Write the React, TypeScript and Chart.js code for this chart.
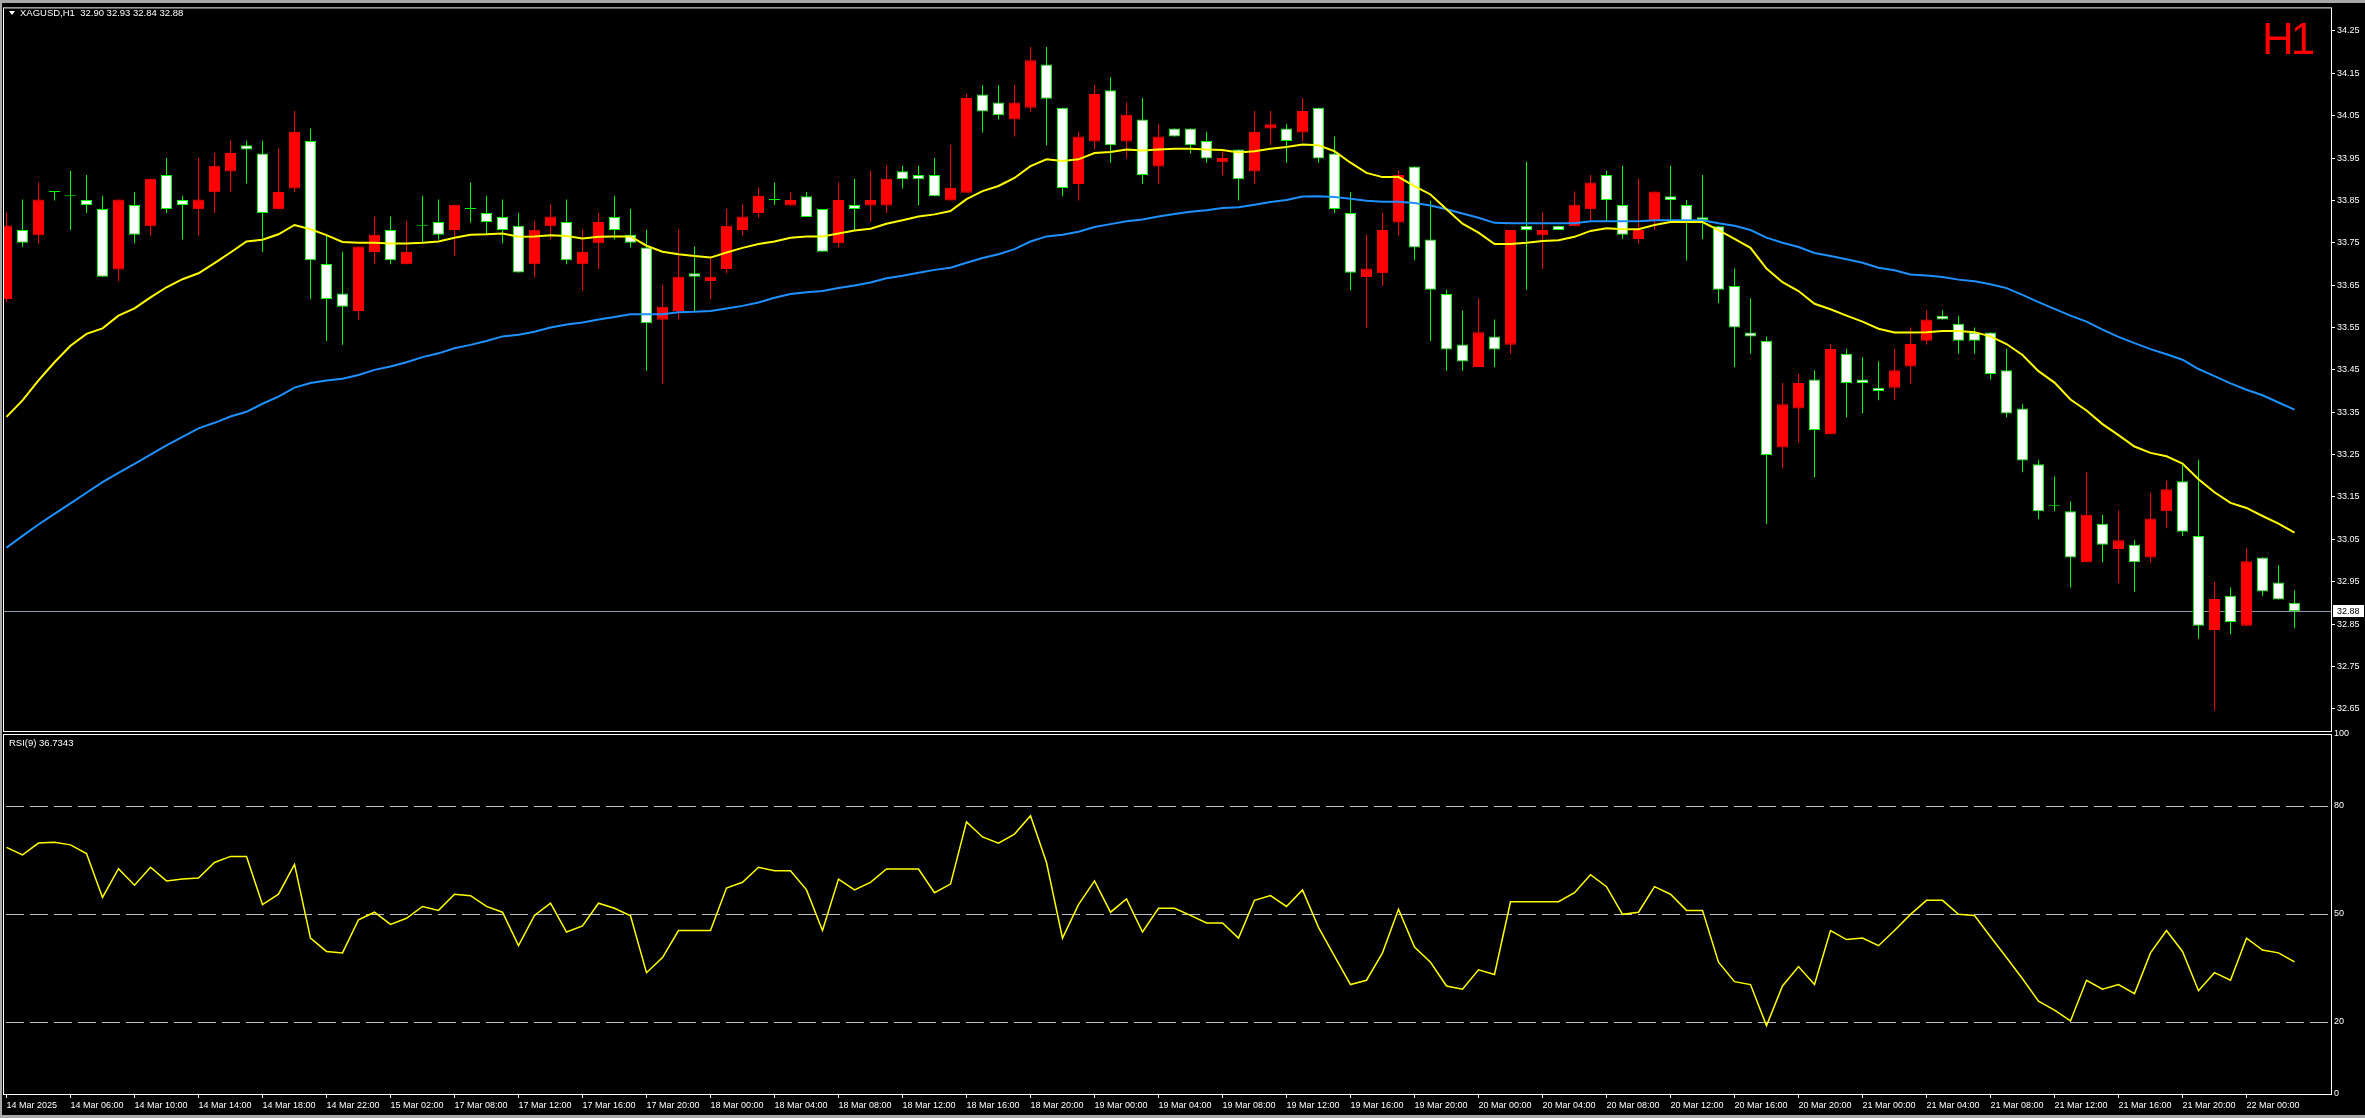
import React, { useEffect, useRef } from 'react';
import { Chart, registerables } from 'chart.js';

Chart.register(...registerables);

const W = 2365;
const H = 1118;
const FONT = "'Liberation Sans', Arial, sans-serif";

const timeLabels = [
  '14 Mar 2025', '14 Mar 06:00', '14 Mar 10:00', '14 Mar 14:00', '14 Mar 18:00', '14 Mar 22:00',
  '15 Mar 02:00', '17 Mar 08:00', '17 Mar 12:00', '17 Mar 16:00', '17 Mar 20:00', '18 Mar 00:00',
  '18 Mar 04:00', '18 Mar 08:00', '18 Mar 12:00', '18 Mar 16:00', '18 Mar 20:00', '19 Mar 00:00',
  '19 Mar 04:00', '19 Mar 08:00', '19 Mar 12:00', '19 Mar 16:00', '19 Mar 20:00', '20 Mar 00:00',
  '20 Mar 04:00', '20 Mar 08:00', '20 Mar 12:00', '20 Mar 16:00', '20 Mar 20:00', '21 Mar 00:00',
  '21 Mar 04:00', '21 Mar 08:00', '21 Mar 12:00', '21 Mar 16:00', '21 Mar 20:00', '22 Mar 00:00',
];

const opens = [
  33.617, 33.780, 33.768, 33.870, 33.860, 33.851, 33.830, 33.687, 33.839, 33.789,
  33.910, 33.851, 33.829, 33.869, 33.918, 33.980, 33.961, 33.829, 33.878, 33.990,
  33.700, 33.630, 33.589, 33.728, 33.780, 33.699, 33.790, 33.799, 33.780, 33.830,
  33.820, 33.811, 33.790, 33.699, 33.789, 33.799, 33.699, 33.749, 33.811, 33.769,
  33.739, 33.568, 33.589, 33.678, 33.660, 33.688, 33.780, 33.820, 33.851, 33.838,
  33.860, 33.830, 33.749, 33.839, 33.838, 33.838, 33.919, 33.910, 33.910, 33.850,
  33.868, 34.100, 34.081, 34.041, 34.069, 34.171, 34.069, 33.889, 33.989, 34.110,
  33.989, 34.041, 33.930, 34.020, 34.020, 33.990, 33.940, 33.970, 33.918, 34.020,
  34.020, 34.010, 34.069, 33.961, 33.820, 33.669, 33.678, 33.798, 33.930, 33.758,
  33.629, 33.510, 33.457, 33.529, 33.509, 33.790, 33.768, 33.790, 33.789, 33.829,
  33.910, 33.839, 33.759, 33.801, 33.860, 33.839, 33.810, 33.789, 33.648, 33.538,
  33.519, 33.267, 33.359, 33.427, 33.298, 33.488, 33.427, 33.408, 33.408, 33.458,
  33.519, 33.578, 33.559, 33.538, 33.538, 33.449, 33.359, 33.227, 33.128, 33.116,
  32.996, 33.087, 33.027, 33.037, 33.007, 33.116, 33.187, 33.058, 32.836, 32.917,
  32.846, 33.007, 32.948, 32.900,
];

const highs = [
  33.821, 33.852, 33.892, 33.870, 33.920, 33.910, 33.861, 33.852, 33.870, 33.901,
  33.950, 33.861, 33.950, 33.962, 33.991, 33.991, 33.991, 33.972, 34.061, 34.020,
  33.766, 33.729, 33.741, 33.812, 33.812, 33.800, 33.861, 33.852, 33.840, 33.892,
  33.861, 33.852, 33.820, 33.800, 33.840, 33.852, 33.781, 33.820, 33.861, 33.830,
  33.781, 33.649, 33.781, 33.741, 33.719, 33.830, 33.840, 33.881, 33.892, 33.870,
  33.870, 33.830, 33.892, 33.901, 33.920, 33.932, 33.932, 33.932, 33.950, 33.981,
  34.101, 34.122, 34.122, 34.122, 34.212, 34.212, 34.069, 34.012, 34.122, 34.141,
  34.081, 34.092, 34.030, 34.020, 34.020, 34.012, 33.970, 33.970, 34.061, 34.061,
  34.030, 34.092, 34.069, 34.001, 33.870, 33.769, 33.820, 33.920, 33.930, 33.850,
  33.639, 33.590, 33.619, 33.569, 33.780, 33.941, 33.821, 33.790, 33.871, 33.910,
  33.920, 33.932, 33.901, 33.871, 33.932, 33.851, 33.910, 33.789, 33.689, 33.619,
  33.529, 33.419, 33.440, 33.449, 33.511, 33.499, 33.480, 33.470, 33.499, 33.550,
  33.591, 33.591, 33.578, 33.550, 33.538, 33.499, 33.369, 33.238, 33.198, 33.139,
  33.209, 33.108, 33.118, 33.048, 33.158, 33.189, 33.229, 33.238, 32.949, 32.936,
  33.029, 33.007, 32.989, 32.930,
];

const lows = [
  33.610, 33.740, 33.749, 33.850, 33.780, 33.820, 33.670, 33.659, 33.749, 33.768,
  33.820, 33.758, 33.768, 33.820, 33.869, 33.890, 33.728, 33.829, 33.869, 33.617,
  33.518, 33.509, 33.568, 33.699, 33.699, 33.699, 33.750, 33.758, 33.719, 33.798,
  33.768, 33.749, 33.680, 33.668, 33.758, 33.699, 33.638, 33.688, 33.758, 33.739,
  33.448, 33.417, 33.568, 33.589, 33.617, 33.678, 33.768, 33.809, 33.840, 33.838,
  33.811, 33.729, 33.739, 33.780, 33.799, 33.820, 33.878, 33.838, 33.860, 33.850,
  33.868, 34.010, 34.041, 34.001, 34.060, 33.980, 33.860, 33.850, 33.970, 33.939,
  33.949, 33.889, 33.889, 34.001, 33.961, 33.939, 33.909, 33.850, 33.889, 33.980,
  33.939, 33.989, 33.939, 33.820, 33.638, 33.549, 33.648, 33.768, 33.709, 33.518,
  33.448, 33.448, 33.457, 33.457, 33.488, 33.639, 33.688, 33.780, 33.789, 33.801,
  33.801, 33.759, 33.748, 33.780, 33.801, 33.708, 33.759, 33.608, 33.457, 33.488,
  33.086, 33.218, 33.279, 33.196, 33.298, 33.338, 33.347, 33.378, 33.378, 33.417,
  33.509, 33.569, 33.488, 33.488, 33.427, 33.338, 33.208, 33.098, 33.116, 32.936,
  32.996, 32.996, 32.947, 32.926, 32.996, 33.076, 33.058, 32.815, 32.646, 32.826,
  32.846, 32.917, 32.908, 32.840,
];

const closes = [
  33.791, 33.750, 33.852, 33.870, 33.860, 33.839, 33.670, 33.852, 33.769, 33.901,
  33.830, 33.839, 33.852, 33.932, 33.962, 33.970, 33.820, 33.870, 34.012, 33.709,
  33.617, 33.599, 33.741, 33.769, 33.709, 33.729, 33.790, 33.769, 33.840, 33.830,
  33.799, 33.780, 33.680, 33.781, 33.812, 33.709, 33.729, 33.799, 33.780, 33.750,
  33.560, 33.599, 33.670, 33.670, 33.670, 33.790, 33.812, 33.861, 33.851, 33.851,
  33.811, 33.729, 33.851, 33.830, 33.851, 33.901, 33.900, 33.900, 33.860, 33.880,
  34.092, 34.060, 34.051, 34.081, 34.181, 34.090, 33.879, 34.001, 34.101, 33.980,
  34.052, 33.910, 34.001, 34.001, 33.980, 33.949, 33.950, 33.900, 34.012, 34.030,
  33.990, 34.061, 33.949, 33.830, 33.679, 33.689, 33.780, 33.910, 33.739, 33.639,
  33.498, 33.470, 33.539, 33.498, 33.780, 33.780, 33.780, 33.780, 33.840, 33.892,
  33.851, 33.769, 33.780, 33.871, 33.851, 33.801, 33.804, 33.639, 33.550, 33.529,
  33.249, 33.369, 33.419, 33.308, 33.499, 33.419, 33.419, 33.400, 33.449, 33.511,
  33.569, 33.569, 33.519, 33.519, 33.440, 33.347, 33.236, 33.116, 33.128, 33.007,
  33.108, 33.037, 33.048, 32.996, 33.099, 33.168, 33.068, 32.846, 32.909, 32.855,
  32.998, 32.927, 32.908, 32.880,
];

const maFast = [
  33.339, 33.378, 33.425, 33.468, 33.507, 33.535, 33.548, 33.578, 33.595, 33.621,
  33.645, 33.664, 33.678, 33.702, 33.727, 33.753, 33.757, 33.770, 33.792, 33.782,
  33.768, 33.752, 33.750, 33.750, 33.748, 33.748, 33.750, 33.753, 33.762, 33.769,
  33.770, 33.772, 33.764, 33.765, 33.768, 33.766, 33.760, 33.764, 33.765, 33.765,
  33.743, 33.729, 33.723, 33.719, 33.715, 33.727, 33.738, 33.747, 33.753, 33.762,
  33.765, 33.765, 33.772, 33.779, 33.783, 33.795, 33.803, 33.812, 33.817, 33.825,
  33.853, 33.872, 33.884, 33.903, 33.931, 33.947, 33.943, 33.947, 33.962, 33.964,
  33.970, 33.968, 33.970, 33.972, 33.972, 33.970, 33.969, 33.963, 33.966, 33.972,
  33.976, 33.982, 33.980, 33.966, 33.939, 33.915, 33.905, 33.905, 33.884, 33.864,
  33.829, 33.795, 33.774, 33.747, 33.747, 33.750, 33.754, 33.756, 33.764, 33.778,
  33.784, 33.782, 33.782, 33.792, 33.799, 33.799, 33.799, 33.780, 33.759, 33.738,
  33.689, 33.657, 33.636, 33.606, 33.593, 33.578, 33.564, 33.547, 33.538, 33.538,
  33.539, 33.542, 33.542, 33.539, 33.529, 33.511, 33.485, 33.447, 33.420, 33.380,
  33.354, 33.322, 33.296, 33.269, 33.254, 33.246, 33.229, 33.192, 33.161, 33.136,
  33.124, 33.105, 33.087, 33.066,
];

const maSlow = [
  33.030, 33.058, 33.085, 33.110, 33.135, 33.160, 33.185, 33.207, 33.228, 33.250,
  33.272, 33.292, 33.312, 33.325, 33.340, 33.351, 33.370, 33.387, 33.408, 33.419,
  33.425, 33.429, 33.438, 33.450, 33.458, 33.468, 33.480, 33.489, 33.501, 33.509,
  33.518, 33.529, 33.533, 33.540, 33.550, 33.557, 33.562, 33.569, 33.575, 33.581,
  33.581, 33.581, 33.586, 33.587, 33.589, 33.595, 33.601, 33.609, 33.620, 33.629,
  33.633, 33.636, 33.643, 33.649, 33.656, 33.666, 33.672, 33.679, 33.686, 33.691,
  33.703, 33.714, 33.723, 33.735, 33.753, 33.765, 33.769, 33.776, 33.787, 33.794,
  33.801, 33.805, 33.812, 33.818, 33.823, 33.827, 33.832, 33.834, 33.840, 33.846,
  33.851, 33.859, 33.860, 33.858, 33.854, 33.849, 33.847, 33.847, 33.844, 33.838,
  33.829, 33.819, 33.809, 33.797, 33.796, 33.796, 33.796, 33.796, 33.796, 33.801,
  33.801, 33.801, 33.801, 33.803, 33.803, 33.803, 33.803, 33.796, 33.790, 33.780,
  33.762, 33.750, 33.740, 33.726, 33.719, 33.711, 33.703, 33.691, 33.685, 33.675,
  33.673, 33.669, 33.663, 33.659, 33.652, 33.643, 33.627, 33.610, 33.594, 33.578,
  33.564, 33.545, 33.528, 33.513, 33.499, 33.487, 33.474, 33.452, 33.435, 33.418,
  33.403, 33.390, 33.373, 33.356,
];

const rsi = [
  68.5, 66.4, 69.7, 69.9, 69.2, 66.8, 54.6, 62.6, 58.0, 63.0,
  59.2, 59.7, 60.0, 64.3, 66.0, 66.0, 52.6, 55.5, 63.8, 43.3,
  39.6, 39.2, 48.4, 50.5, 47.1, 48.8, 52.1, 51.0, 55.5, 55.1,
  52.1, 50.5, 41.2, 49.6, 53.0, 45.0, 46.7, 53.0, 51.6, 49.5,
  33.7, 37.9, 45.4, 45.4, 45.4, 57.2, 58.8, 63.0, 62.0, 62.0,
  56.7, 45.4, 59.7, 56.7, 58.8, 62.5, 62.5, 62.5, 55.9, 58.3,
  75.6, 71.4, 69.7, 72.2, 77.3, 64.3, 43.3, 52.6, 59.2, 50.5,
  54.2, 45.0, 51.6, 51.6, 49.6, 47.5, 47.5, 43.3, 53.8, 55.1,
  52.1, 56.7, 46.3, 38.3, 30.4, 31.6, 39.2, 51.3, 40.8, 36.6,
  30.0, 29.1, 34.5, 33.2, 53.4, 53.4, 53.4, 53.4, 55.9, 60.9,
  57.6, 49.9, 50.5, 57.6, 55.5, 51.0, 51.0, 36.6, 31.2, 30.4,
  19.0, 30.0, 35.4, 30.4, 45.4, 42.9, 43.3, 41.2, 45.4, 49.9,
  53.8, 53.8, 49.9, 49.6, 43.7, 37.9, 32.0, 25.8, 23.3, 20.3,
  31.6, 29.1, 30.4, 27.9, 39.2, 45.4, 39.6, 28.7, 33.7, 31.6,
  43.3, 40.0, 39.2, 36.7,
];

const priceTickLabels = [
  '34.25', '34.15', '34.05', '33.95', '33.85', '33.75', '33.65', '33.55', '33.45',
  '33.35', '33.25', '33.15', '33.05', '32.95', '32.85', '32.75', '32.65',
];
const rsiTickLabels = ['100', '80', '50', '20', '0'];
const rsiLevels = [80, 50, 20];
const rsiLabelText = 'RSI(9) 36.7343';
const titleText = 'XAGUSD,H1  32.90 32.93 32.84 32.88';

const X_MIN = -0.21875;
const X_MAX = 145.28125;
const PRICE_MIN = 32.5975;
const PRICE_MAX = 34.3056;

const RED = '#ff0000';
const GREEN = '#00ff00';
const WHITE = '#ffffff';

const isBull = (i: number) => i !== undefined && closes[i] > opens[i];
const isDoji = (i: number) => i !== undefined && closes[i] === opens[i];

const framePlugin = {
  id: 'frame',
  afterDraw(chart: any) {
    const { ctx, chartArea: a } = chart;
    ctx.save();
    ctx.strokeStyle = '#ffffff';
    ctx.lineWidth = 1;
    ctx.strokeRect(a.left + 0.5, a.top + 0.5, a.right - a.left, a.bottom - a.top);
    ctx.restore();
  },
};

const lastClose = closes[closes.length - 1];

const priceLinePlugin = {
  id: 'priceLine',
  beforeDatasetsDraw(chart: any) {
    const { ctx, chartArea: a, scales } = chart;
    const py = Math.round(scales.y.getPixelForValue(lastClose)) + 0.5;
    ctx.save();
    ctx.strokeStyle = '#8a96a6';
    ctx.lineWidth = 1;
    ctx.beginPath();
    ctx.moveTo(a.left, py);
    ctx.lineTo(a.right, py);
    ctx.stroke();
    ctx.restore();
  },
  afterDraw(chart: any) {
    const { ctx, chartArea: a, scales } = chart;
    const py = Math.round(scales.y.getPixelForValue(lastClose));
    ctx.save();
    ctx.fillStyle = '#ffffff';
    ctx.fillRect(a.right + 2, py - 6, W - a.right - 3, 12);
    ctx.fillStyle = '#000000';
    ctx.font = `9px ${FONT}`;
    ctx.textBaseline = 'middle';
    ctx.textAlign = 'left';
    ctx.fillText(lastClose.toFixed(2), a.right + 6, py + 0.5);
    ctx.restore();
  },
};

const rsiLevelsPlugin = {
  id: 'rsiLevels',
  beforeDatasetsDraw(chart: any) {
    const { ctx, chartArea: a, scales } = chart;
    ctx.save();
    ctx.strokeStyle = '#c0c0c0';
    ctx.lineWidth = 1;
    ctx.setLineDash([18, 6]);
    rsiLevels.forEach((lv) => {
      const py = Math.round(scales.y.getPixelForValue(lv)) + 0.5;
      ctx.beginPath();
      ctx.moveTo(a.left + 3, py);
      ctx.lineTo(a.right, py);
      ctx.stroke();
    });
    ctx.restore();
  },
};

export default function App() {
  const mainRef = useRef<HTMLCanvasElement>(null);
  const rsiRef = useRef<HTMLCanvasElement>(null);

  useEffect(() => {
    const tickFont = { family: FONT, size: 9 };
    const main = new Chart(mainRef.current as HTMLCanvasElement, {
      type: 'bar',
      data: {
        datasets: [
          {
            type: 'line',
            label: 'MA fast',
            data: maFast.map((v, i) => ({ x: i, y: v })),
            borderColor: '#ffff00',
            borderWidth: 2,
            pointRadius: 0,
            tension: 0,
            order: 0,
          } as any,
          {
            type: 'line',
            label: 'MA slow',
            data: maSlow.map((v, i) => ({ x: i, y: v })),
            borderColor: '#1e90ff',
            borderWidth: 2,
            pointRadius: 0,
            tension: 0,
            order: 1,
          } as any,
          {
            type: 'bar',
            label: 'body',
            data: opens.map((o, i) => ({ x: i, y: [o, closes[i]] })),
            backgroundColor: (c: any) => (isBull(c.dataIndex) ? RED : isDoji(c.dataIndex) ? GREEN : WHITE),
            borderColor: (c: any) => (isBull(c.dataIndex) ? RED : GREEN),
            borderWidth: 1,
            borderSkipped: false,
            barThickness: 11,
            minBarLength: 1,
            grouped: false,
            inflateAmount: 0,
            order: 2,
          } as any,
          {
            type: 'bar',
            label: 'wick',
            data: lows.map((l, i) => ({ x: i, y: [l, highs[i]] })),
            backgroundColor: (c: any) => (isBull(c.dataIndex) ? RED : GREEN),
            borderWidth: 0,
            barThickness: 1,
            grouped: false,
            inflateAmount: 0,
            order: 3,
          } as any,
        ],
      },
      options: {
        animation: false,
        responsive: false,
        devicePixelRatio: 1,
        layout: { padding: { left: 3, top: 4, right: 0, bottom: H - 731 } },
        plugins: { legend: { display: false }, tooltip: { enabled: false } },
        scales: {
          x: { type: 'linear', min: X_MIN, max: X_MAX, display: false, offset: false },
          y: {
            type: 'linear',
            position: 'right',
            min: PRICE_MIN,
            max: PRICE_MAX,
            afterFit: (s: any) => { s.width = W - 2331; },
            afterBuildTicks: (s: any) => { s.ticks = priceTickLabels.map((t) => ({ value: Number(t) })); },
            ticks: {
              color: '#ffffff',
              font: tickFont,
              padding: 2,
              autoSkip: false,
              callback: (_v: any, idx: number) => priceTickLabels[idx],
            },
            grid: { display: true, drawOnChartArea: false, drawTicks: true, tickLength: 4, color: '#ffffff' },
            border: { display: false },
          },
        },
      } as any,
      plugins: [priceLinePlugin, framePlugin],
    });

    const rsiChart = new Chart(rsiRef.current as HTMLCanvasElement, {
      type: 'line',
      data: {
        datasets: [
          {
            label: 'RSI',
            data: rsi.map((v, i) => ({ x: i, y: v })),
            borderColor: '#ffff00',
            borderWidth: 1.5,
            pointRadius: 0,
            tension: 0,
          },
        ],
      },
      options: {
        animation: false,
        responsive: false,
        devicePixelRatio: 1,
        layout: { padding: { left: 3, top: 734, right: 0, bottom: 0 } },
        plugins: { legend: { display: false }, tooltip: { enabled: false } },
        scales: {
          x: {
            type: 'linear',
            position: 'bottom',
            min: X_MIN,
            max: X_MAX,
            offset: false,
            afterFit: (s: any) => { s.height = H - 1094; },
            afterBuildTicks: (s: any) => { s.ticks = timeLabels.map((_t, k) => ({ value: k * 4 })); },
            ticks: {
              align: 'start',
              maxRotation: 0,
              minRotation: 0,
              autoSkip: false,
              color: '#ffffff',
              font: tickFont,
              padding: 2,
              callback: (_v: any, idx: number) => timeLabels[idx],
            },
            grid: { display: true, drawOnChartArea: false, drawTicks: true, tickLength: 4, color: '#ffffff' },
            border: { display: false },
          },
          y: {
            type: 'linear',
            position: 'right',
            min: 0,
            max: 100,
            afterFit: (s: any) => { s.width = W - 2331; },
            afterBuildTicks: (s: any) => { s.ticks = rsiTickLabels.map((t) => ({ value: Number(t) })); },
            ticks: {
              color: '#ffffff',
              font: tickFont,
              padding: 3,
              autoSkip: false,
              callback: (_v: any, idx: number) => rsiTickLabels[idx],
            },
            grid: { display: false, drawTicks: false },
            border: { display: false },
          },
        },
      } as any,
      plugins: [rsiLevelsPlugin, framePlugin],
    });

    return () => {
      main.destroy();
      rsiChart.destroy();
    };
  }, []);

  const textStyle: React.CSSProperties = {
    position: 'absolute',
    color: '#ffffff',
    fontFamily: FONT,
    fontSize: 9.5,
    lineHeight: '11px',
    whiteSpace: 'pre',
  };

  return (
    <div style={{ position: 'fixed', left: 0, top: 0, width: W, height: H, background: '#000000', overflow: 'hidden' }}>
      <div style={{ position: 'absolute', left: 0, top: 0, width: W, height: 3, background: '#a8a8a8' }} />
      <div style={{ position: 'absolute', left: 0, top: 0, width: 2, height: H, background: '#a8a8a8' }} />
      <div style={{ position: 'absolute', left: 0, top: H - 3, width: W, height: 3, background: '#a8a8a8' }} />
      <canvas ref={mainRef} width={W} height={H} style={{ position: 'absolute', left: 0, top: 0, width: W, height: H }} />
      <canvas ref={rsiRef} width={W} height={H} style={{ position: 'absolute', left: 0, top: 0, width: W, height: H }} />
      <div
        style={{
          position: 'absolute', left: 9, top: 11, width: 0, height: 0,
          borderLeft: '3px solid transparent', borderRight: '3px solid transparent', borderTop: '4px solid #ffffff',
        }}
      />
      <div style={{ ...textStyle, left: 20, top: 7 }}>{titleText}</div>
      <div style={{ ...textStyle, left: 9, top: 737 }}>{rsiLabelText}</div>
      <div
        style={{
          position: 'absolute', left: 2262, top: 16, color: '#ff0000', fontFamily: FONT,
          fontSize: 44, lineHeight: '46px', letterSpacing: -3,
        }}
      >
        H1
      </div>
    </div>
  );
}
